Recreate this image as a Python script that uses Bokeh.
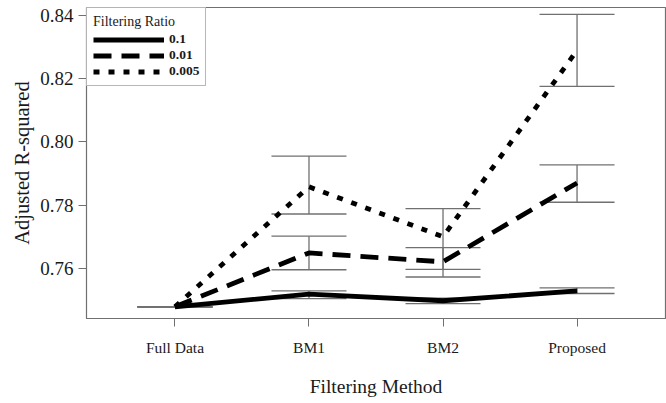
from bokeh.plotting import figure
from bokeh.models import (ColumnDataSource, Whisker, TeeHead, Legend, LegendItem,
                          FixedTicker, PrintfTickFormatter, Range1d, FactorRange)
from bokeh.embed import file_html
from bokeh.resources import INLINE

categories = ["Full Data", "BM1", "BM2", "Proposed"]
ratio_labels = ["0.1", "0.01", "0.005"]

r01 = [0.7479, 0.7519, 0.7498, 0.7529]
r01_lo = [0.7479, 0.7505, 0.7489, 0.7521]
r01_hi = [0.7479, 0.7529, 0.7506, 0.7539]

r001 = [0.7479, 0.7649, 0.7621, 0.7870]
r001_lo = [0.7479, 0.7596, 0.7573, 0.7809]
r001_hi = [0.7479, 0.7702, 0.7666, 0.7927]

r0005 = [0.7479, 0.7858, 0.7700, 0.8289]
r0005_lo = [0.7479, 0.7772, 0.7597, 0.8175]
r0005_hi = [0.7479, 0.7955, 0.7789, 0.8402]

y_ticks = [0.76, 0.78, 0.80, 0.82, 0.84]

FONT = "Liberation Serif"
TXT = "#1a1a1a"
GRAY = "#707070"

p = figure(width=666, height=403, output_backend="svg", toolbar_location=None,
           x_range=FactorRange(*categories, range_padding=0.16, range_padding_units="absolute"),
           y_range=Range1d(0.7442, 0.8424),
           min_border_left=86, min_border_right=1, min_border_top=7, min_border_bottom=85)

p.xgrid.visible = False
p.ygrid.visible = False
p.outline_line_color = GRAY
p.outline_line_width = 1.2

series = [
    (r01, r01_lo, r01_hi, None),
    (r001, r001_lo, r001_hi, "18 10"),
    (r0005, r0005_lo, r0005_hi, "6 9"),
]

renderers = []
for vals, lo, hi, dash in series:
    src = ColumnDataSource(dict(x=categories, y=vals, lo=lo, hi=hi))
    w = Whisker(source=src, base="x", lower="lo", upper="hi",
                line_color=GRAY, line_width=1.3, level="underlay",
                upper_head=TeeHead(size=75, line_color=GRAY, line_width=1.3),
                lower_head=TeeHead(size=75, line_color=GRAY, line_width=1.3))
    p.add_layout(w)
    kw = dict(line_color="black", line_width=4.8)
    if dash:
        kw["line_dash"] = dash
    r = p.line("x", "y", source=src, **kw)
    renderers.append(r)

legend = Legend(items=[LegendItem(label=lab, renderers=[r]) for lab, r in zip(ratio_labels, renderers)],
                title="Filtering Ratio", location="top_left", margin=0, padding=6,
                spacing=0, glyph_width=71, glyph_height=13, label_height=13,
                label_standoff=5, title_standoff=1,
                border_line_color=GRAY, border_line_width=1.2,
                label_text_font=FONT, label_text_font_style="bold", label_text_font_size="13.5px",
                label_text_color=TXT,
                title_text_font=FONT, title_text_font_style="normal", title_text_font_size="14px",
                title_text_color=TXT)
p.add_layout(legend)

p.yaxis.ticker = FixedTicker(ticks=y_ticks)
p.yaxis.formatter = PrintfTickFormatter(format="%.2f")

for ax in (p.xaxis[0], p.yaxis[0]):
    ax.axis_line_color = GRAY
    ax.major_tick_line_color = GRAY
    ax.major_tick_out = 8
    ax.major_tick_in = 0
    ax.minor_tick_line_color = None
    ax.major_label_text_font = FONT
    ax.major_label_text_color = TXT
    ax.axis_label_text_font = FONT
    ax.axis_label_text_font_style = "normal"
    ax.axis_label_text_color = TXT

p.yaxis.major_label_text_font_size = "19px"
p.yaxis.major_label_standoff = 5
p.yaxis.axis_label = "Adjusted R-squared"
p.yaxis.axis_label_text_font_size = "20.5px"
p.yaxis.axis_label_standoff = 4

p.xaxis.major_label_text_font_size = "15.5px"
p.xaxis.major_label_standoff = 12
p.xaxis.axis_label = "Filtering Method"
p.xaxis.axis_label_text_font_size = "19.5px"
p.xaxis.axis_label_standoff = 17

open("out.html", "w").write(file_html(p, INLINE))
